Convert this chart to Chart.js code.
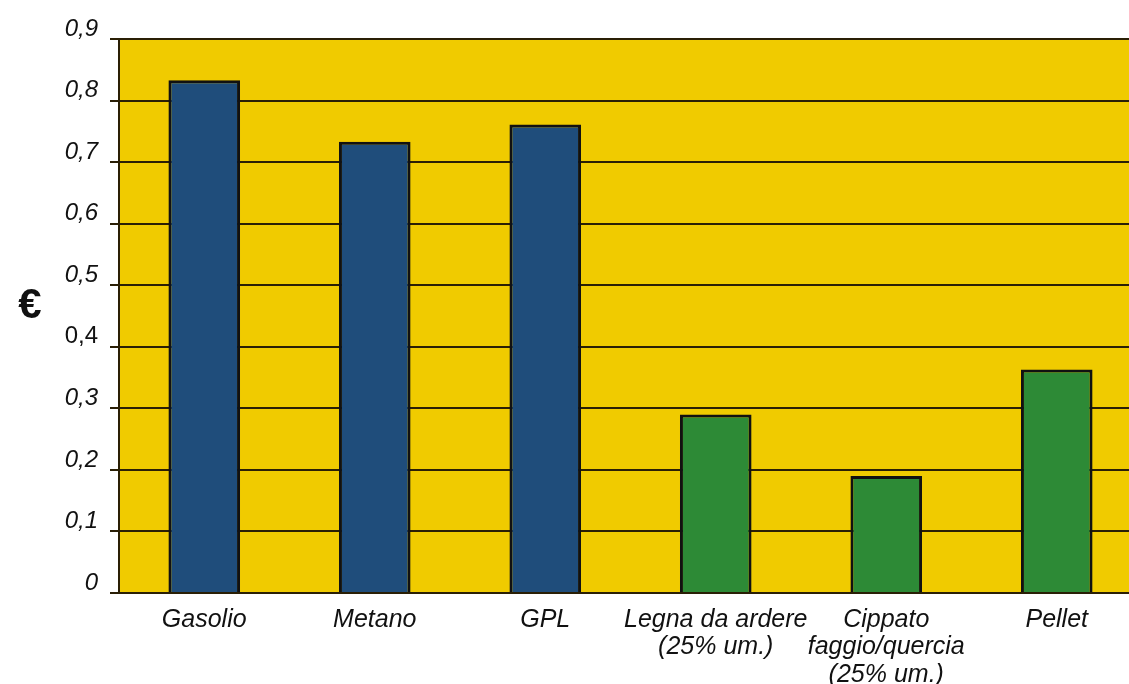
<!DOCTYPE html>
<html>
<head>
<meta charset="utf-8">
<script src="https://cdn.jsdelivr.net/npm/chart.js@4/dist/chart.umd.min.js"></script>
<style>
  html, body { margin: 0; padding: 0; background: #fff; overflow: hidden; }
  #wrap { width: 1142px; height: 684px; }
</style>
</head>
<body>
<div id="wrap"><canvas id="grafico" width="1142" height="684"></canvas></div>
<script>
// dati
var combustibili = [
  'Gasolio',
  'Metano',
  'GPL',
  ['Legna da ardere', '(25% um.)'],
  ['Cippato', 'faggio/quercia', '(25% um.)'],
  'Pellet'
];
var costi = [0.833, 0.733, 0.761, 0.29, 0.19, 0.363];
var tipo = ['fossile', 'fossile', 'fossile', 'legno', 'legno', 'legno'];
var tacche = [0, 0.1, 0.2, 0.3, 0.4, 0.5, 0.6, 0.7, 0.8, 0.9];

var BLU = '#1f4d7b';
var VERDE = '#2d8a36';
var GIALLO = '#f0cb00';
var SCURO = '#2a1f05';
var FONT = "'Liberation Sans', Arial, sans-serif";

var sfondo = {
  id: 'sfondo',
  beforeDraw: function(chart) {
    var a = chart.chartArea, ctx = chart.ctx;
    ctx.save();
    ctx.fillStyle = GIALLO;
    ctx.fillRect(a.left, a.top, a.right - a.left, a.bottom - a.top);
    ctx.restore();
  },
  afterDraw: function(chart) {
    var ctx = chart.ctx;
    ctx.save();
    ctx.fillStyle = '#111';
    ctx.font = 'bold 42px ' + FONT;
    ctx.textAlign = 'center';
    ctx.textBaseline = 'middle';
    ctx.fillText('€', 30, 306);
    ctx.restore();
  }
};

var ctx = document.getElementById('grafico').getContext('2d');
var myBar = new Chart(ctx, {
  type: 'bar',
  data: {
    labels: combustibili,
    datasets: [{
      data: costi,
      backgroundColor: tipo.map(function(t) { return t === 'fossile' ? BLU : VERDE; }),
      borderColor: '#111',
      borderWidth: 3,
      borderSkipped: 'bottom',
      barPercentage: 0.42,
      categoryPercentage: 1
    }]
  },
  options: {
    responsive: false,
    animation: false,
    layout: { padding: { top: 39, left: 0, right: 0, bottom: 0 } },
    plugins: {
      legend: { display: false },
      tooltip: { enabled: false }
    },
    scales: {
      x: {
        grid: { display: false },
        border: { display: true, color: SCURO, width: 2 },
        ticks: {
          color: '#111',
          padding: 5,
          maxRotation: 0,
          autoSkip: false,
          font: { family: FONT, size: 25, style: 'italic', lineHeight: 1.1 }
        },
        afterFit: function(s) { s.height = 91; }
      },
      y: {
        min: 0,
        max: 0.9,
        afterBuildTicks: function(s) {
          s.ticks = tacche.map(function(v) { return { value: v }; });
        },
        grid: { color: SCURO, lineWidth: 2, tickLength: 9, drawTicks: true },
        border: { display: true, color: SCURO, width: 2 },
        ticks: {
          color: '#111',
          padding: 12,
          labelOffset: -10,
          font: function(c) {
            var v = c.tick ? c.tick.value : 0;
            return { family: FONT, size: 24, style: Math.abs(v - 0.4) < 1e-6 ? 'normal' : 'italic' };
          },
          callback: function(v) {
            return v === 0 ? '0' : Number(v).toFixed(1).replace('.', ',');
          }
        },
        afterFit: function(s) { s.width = 119; }
      }
    }
  },
  plugins: [sfondo]
});
</script>
</body>
</html>
